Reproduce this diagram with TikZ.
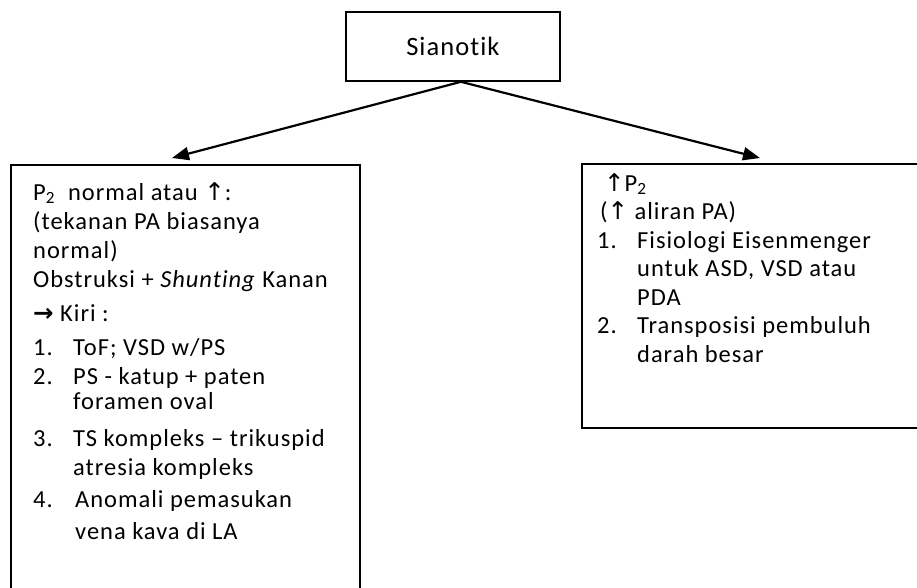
\documentclass[tikz,border=0pt]{standalone}
\usepackage{fontspec}
\setmainfont{Carlito}[LetterSpace=4,Ligatures=NoCommon]
\newfontfamily\symfont{DejaVu Sans}
\usetikzlibrary{positioning,arrows.meta,calc}
\newcommand{\uparr}{{\symfont ↑}}
\newcommand{\rarr}{{\symfont\bfseries →}}
\newcommand{\itemno}[1]{\makebox[40pt][l]{#1}}
\newcommand{\itemind}{\hspace*{40pt}}
\tikzset{
  box/.style={draw=black,line width=1.8pt,inner sep=0pt,anchor=north west},
  txt/.style={align=left,inner sep=0pt,anchor=north west,font=\fontsize{24.5}{29}\selectfont},
  arr/.style={-{Triangle[length=17pt,width=13pt]},line width=2.2pt}
}
\begin{document}
\begin{tikzpicture}[x=1pt,y=-1pt]
\useasboundingbox (0,0) rectangle (917,588);
\node[box,minimum width=214pt,minimum height=69pt,font=\fontsize{26.5}{32}\selectfont] (top) at (345,11) {Sianotik};
\node[box,minimum width=349pt,minimum height=440pt] (lbox) at (10,164) {};
\node[box,minimum width=345pt,minimum height=264pt] (rbox) at (581,163) {};

\node[txt] (ltxt) at (33,182) {%
  P\textsubscript{2}\ \ normal atau \uparr:\\
  (tekanan PA biasanya\\
  normal)\\
  Obstruksi + \emph{Shunting} Kanan\\[5pt]
  \rarr\ Kiri :\\[5pt]
  \itemno{1.}ToF; VSD w/PS\\
  \itemno{2.}PS - katup + paten\\[-4pt]
  \itemind foramen oval\\[8pt]
  \itemno{3.}TS kompleks -- trikuspid\\
  \itemind atresia kompleks\\[3pt]
  \itemno{4.}\hspace*{2pt}Anomali pemasukan\\[3pt]
  \itemind\hspace*{2pt}vena kava di LA};
\node[txt,font=\fontsize{24.5}{28.5}\selectfont] (rtxt) at (597,173) {%
  \hspace*{7pt}\uparr P\textsubscript{2}\\
  \hspace*{3pt}(\uparr\ aliran PA)\\
  \itemno{1.}Fisiologi Eisenmenger\\
  \itemind untuk ASD, VSD atau\\
  \itemind PDA\\
  \itemno{2.}Transposisi pembuluh\\
  \itemind darah besar};

\coordinate (apex) at ([xshift=8pt]top.south);
\draw[arr] (apex) -- ($(lbox.north west)+(162,-6)$);
\draw[arr] (apex) -- ($(rbox.north west)+(179,-5)$);
\end{tikzpicture}
\end{document}
